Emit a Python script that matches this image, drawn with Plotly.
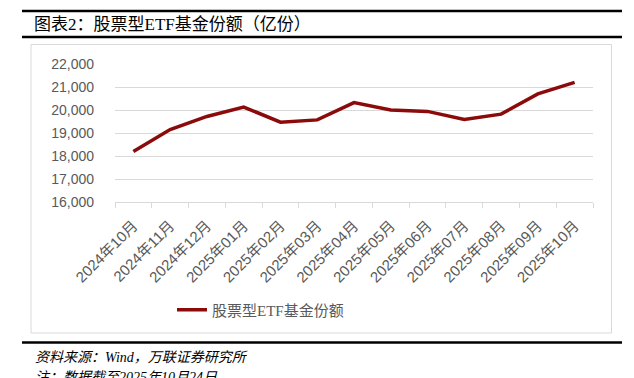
import plotly.graph_objects as go

# ---- data ----
months = ["2024年10月", "2024年11月", "2024年12月", "2025年01月", "2025年02月",
          "2025年03月", "2025年04月", "2025年05月", "2025年06月", "2025年07月",
          "2025年08月", "2025年09月", "2025年10月"]
shares = [18200, 19150, 19720, 20130, 19470, 19570, 20320,
          20000, 19940, 19590, 19820, 20700, 21200]
series_name = "股票型ETF基金份额"
y_ticks = [16000, 17000, 18000, 19000, 20000, 21000, 22000]

title_text = "图表2：股票型ETF基金份额（亿份）"
source_text = "资料来源：Wind，万联证券研究所"
note_text = "注：数据截至2025年10月24日"

# ---- layout geometry (pixels) ----
W, H = 634, 378
L, R, T, B = 115, 41, 64, 176
pw, ph = W - L - R, H - T - B


def px(x):
    return (x - L) / pw


def py(y):
    return (H - B - y) / ph


SANS = "Liberation Sans, Noto Sans CJK SC, sans-serif"
SERIF = "Liberation Serif, Noto Sans CJK SC, serif"
GRAY = "#595959"
LIGHT = "#d9d9d9"

fig = go.Figure()
fig.add_trace(go.Scatter(
    x=months, y=shares, name=series_name, mode="lines",
    line=dict(color="#8b0a0a", width=3.5),
))

shapes = []
for yy in (11, 37, 342.5):
    shapes.append(dict(type="line", xref="paper", yref="paper",
                       x0=px(22), x1=px(622), y0=py(yy), y1=py(yy),
                       line=dict(color="black", width=2.5), layer="above"))
shapes.append(dict(type="rect", xref="paper", yref="paper",
                   x0=px(31), x1=px(611.5), y0=py(44.5), y1=py(333),
                   line=dict(color=LIGHT, width=1), layer="below"))

annotations = [
    dict(text=title_text, xref="paper", yref="paper", x=px(32), y=py(24),
         xanchor="left", yanchor="middle", showarrow=False,
         font=dict(family=SERIF, size=17, color="black")),
    dict(text=source_text, xref="paper", yref="paper", x=px(33), y=py(357),
         xanchor="left", yanchor="middle", showarrow=False,
         font=dict(family=SERIF, size=14, color="black", style="italic")),
    dict(text=note_text, xref="paper", yref="paper", x=px(33), y=py(377),
         xanchor="left", yanchor="middle", showarrow=False,
         font=dict(family=SERIF, size=14, color="black", style="italic")),
]

fig.update_layout(
    width=W, height=H,
    margin=dict(l=L, r=R, t=T, b=B, autoexpand=False),
    paper_bgcolor="white", plot_bgcolor="white",
    showlegend=True,
    legend=dict(orientation="h", x=px(172), y=py(310), xanchor="left",
                yanchor="middle", font=dict(family=SERIF, size=15, color=GRAY),
                bgcolor="rgba(0,0,0,0)"),
    shapes=shapes,
    annotations=annotations,
    xaxis=dict(
        type="category", range=[-0.5, len(months) - 0.5],
        showline=True, linecolor=LIGHT, linewidth=1,
        ticks="outside", ticklen=5, tickcolor=LIGHT, tickson="boundaries",
        tickangle=-45, showgrid=False, ticklabelstandoff=8,
        tickfont=dict(family=SANS, size=15, color=GRAY),
    ),
    yaxis=dict(
        range=[y_ticks[0], y_ticks[-1]], tickvals=y_ticks, tickformat=",",
        showline=False, zeroline=False, showgrid=True,
        gridcolor=LIGHT, gridwidth=1, ticks="", ticklabelstandoff=20,
        tickfont=dict(family=SANS, size=14, color=GRAY),
    ),
)

fig.write_html("out.html")
